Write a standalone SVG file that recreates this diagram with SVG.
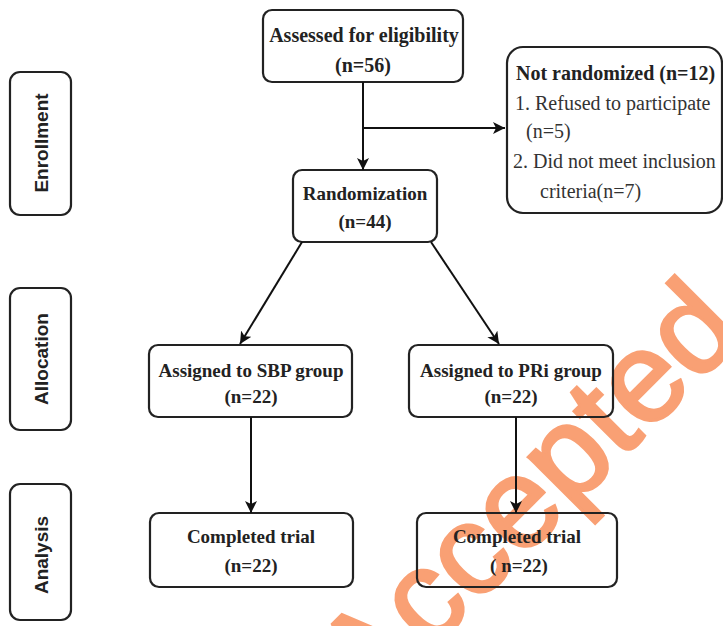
<svg xmlns="http://www.w3.org/2000/svg" width="723" height="626" viewBox="0 0 723 626">
<style>
.box{fill:none;stroke:#222;stroke-width:2.2}
.side{fill:none;stroke:#222;stroke-width:2.2}
.t{font-family:"Liberation Serif","Times New Roman",serif;font-weight:bold;font-size:19px;fill:#222;text-anchor:middle}
.r{font-family:"Liberation Serif","Times New Roman",serif;font-size:20px;fill:#333}
.rb{font-family:"Liberation Serif","Times New Roman",serif;font-weight:bold;font-size:20px;fill:#222}
.lab{font-family:"Liberation Sans",Arial,sans-serif;font-weight:bold;font-size:19px;fill:#222;text-anchor:middle}
.wm{font-family:"Liberation Sans",Arial,sans-serif;font-size:128px;fill:#F9A074;stroke:#F9A074;stroke-width:3}
.c{stroke:#111;stroke-width:2;fill:none}
</style>
<defs>
<marker id="ah" viewBox="0 0 10 10" refX="10" refY="5" markerWidth="12" markerHeight="12" markerUnits="userSpaceOnUse" orient="auto">
<path d="M0,0 L10,5 L0,10 L2.5,5 z" fill="#111"/>
</marker>
</defs>
<rect width="723" height="626" fill="#fff"/>
<g id="watermark">
<text class="wm" x="369" y="712" transform="rotate(-45 369 712)">Accepted</text>
</g>
<g id="enrollment">
<rect class="side" x="10" y="72" width="61" height="143" rx="10"/>
<text class="lab" x="48" y="143" transform="rotate(-90 48 143)">Enrollment</text>
</g>
<g id="allocation">
<rect class="side" x="10" y="288" width="61" height="142" rx="10"/>
<text class="lab" x="48" y="359" transform="rotate(-90 48 359)">Allocation</text>
</g>
<g id="analysis">
<rect class="side" x="10" y="484" width="61" height="136" rx="10"/>
<text class="lab" x="48" y="555" transform="rotate(-90 48 555)">Analysis</text>
</g>
<g id="assessed">
<rect class="box" x="263" y="10" width="200" height="72" rx="9"/>
<text class="t" x="364" y="42" style="font-size:20px">Assessed for eligibility</text>
<text class="t" x="363" y="72" style="font-size:20px">(n=56)</text>
</g>
<g id="not-randomized">
<rect class="box" x="507" y="47" width="215" height="166" rx="16"/>
<text class="rb" x="516" y="80">Not randomized (n=12)</text>
<text class="r" x="515" y="110">1. Refused to participate</text>
<text class="r" x="526" y="138">(n=5)</text>
<text class="r" x="513" y="168">2. Did not meet inclusion</text>
<text class="r" x="540" y="198">criteria(n=7)</text>
</g>
<g id="randomization">
<rect class="box" x="293" y="170" width="144" height="72" rx="9"/>
<text class="t" x="365" y="200">Randomization</text>
<text class="t" x="365" y="228">(n=44)</text>
</g>
<g id="assigned-sbp">
<rect class="box" x="149" y="345" width="203" height="72" rx="9"/>
<text class="t" x="251" y="377">Assigned to SBP group</text>
<text class="t" x="251" y="403">(n=22)</text>
</g>
<g id="assigned-pri">
<rect class="box" x="409" y="345" width="204" height="72" rx="9"/>
<text class="t" x="511" y="377">Assigned to PRi group</text>
<text class="t" x="511" y="403">(n=22)</text>
</g>
<g id="completed-sbp">
<rect class="box" x="150" y="513" width="203" height="74" rx="9"/>
<text class="t" x="251" y="543">Completed trial</text>
<text class="t" x="251" y="572">(n=22)</text>
</g>
<g id="completed-pri">
<rect class="box" x="417" y="513" width="200" height="74" rx="9"/>
<text class="t" x="517" y="543">Completed trial</text>
<text class="t" x="519" y="572">( n=22)</text>
</g>
<g id="connectors">
<line class="c" x1="363" y1="82" x2="363" y2="170" marker-end="url(#ah)"/>
<line class="c" x1="364" y1="128" x2="505" y2="128" marker-end="url(#ah)"/>
<line class="c" x1="302" y1="242" x2="240" y2="344" marker-end="url(#ah)"/>
<line class="c" x1="431" y1="242" x2="499" y2="344" marker-end="url(#ah)"/>
<line class="c" x1="251" y1="417" x2="251" y2="513" marker-end="url(#ah)"/>
<line class="c" x1="516" y1="417" x2="516" y2="513" marker-end="url(#ah)"/>
</g>
</svg>
